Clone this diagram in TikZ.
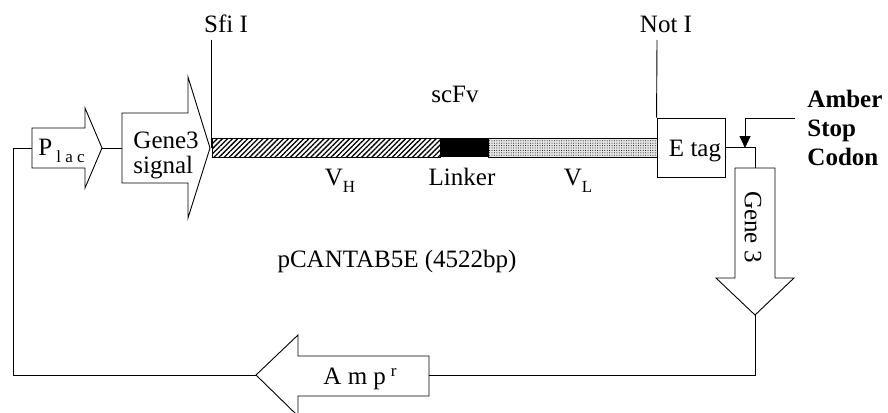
\documentclass[tikz,border=0pt]{standalone}
\usepackage{fontspec}
\setmainfont{Liberation Serif}
\usetikzlibrary{arrows.meta,patterns.meta}
\newcommand{\smalltxt}[1]{{\fontsize{17}{17}\selectfont #1}}
\begin{document}
\begin{tikzpicture}[x=1pt,y=-1pt,line width=0.9pt,
  lbl/.style={inner sep=0pt,anchor=base,font=\fontsize{25}{25}\selectfont},
  gene/.style={draw,fill=white,line join=miter},
  conn/.style={draw,line join=miter}]
\useasboundingbox (0,0) rectangle (888,412);

% --- named connection points of the gene arrows
\coordinate (placL) at (32,148);
\coordinate (placT) at (102,148);
\coordinate (sigL) at (122,148);
\coordinate (sigT) at (210,148);
\coordinate (g3top) at (755,168);
\coordinate (g3tip) at (755,315);
\coordinate (ampR) at (429,375);
\coordinate (ampT) at (256,375);
\coordinate (sfiTop) at (211,40);
\coordinate (sfiBot) at (211,148);
\coordinate (notTop) at (657,40);
\coordinate (amberS) at (795,118);
\coordinate (amberE) at (745,148);
\coordinate (loopC) at (13,375);

% --- gene arrows
\draw[gene] (32,128) -- (85,128) -- (85,108) -- (placT) -- (85,188) -- (85,168) -- (32,168) -- cycle;
\draw[gene] (122,113) -- (188,113) -- (188,77) -- (sigT) -- (188,218) -- (188,183) -- (122,183) -- cycle;
\draw[gene] (735,168) -- (775,168) -- (775,278) -- (794,278) -- (g3tip) -- (716,278) -- (735,278) -- cycle;
\draw[gene] (429,356) -- (429,396) -- (298,396) -- (298,416) -- (ampT) -- (298,335) -- (298,356) -- cycle;

% --- scFv bar
\draw[pattern={Lines[angle=45,distance=3.6pt,line width=1.3pt]}] (212,138) rectangle (440,157);
\fill (440,138) rectangle (488,157);
\fill[black!10] (488,138) rectangle (657,157);
\draw[pattern={Dots[distance=2.4pt,radius=0.5pt]}] (488,138) rectangle (657,157);

% --- E tag box
\node[draw,inner sep=0pt,minimum width=68pt,minimum height=59pt] (etag) at (691,147.5) {};
\node[lbl] (etagtxt) at (695,156) {E tag};

% --- connectors
\draw[conn] (placT) -- (sigL);
\draw[conn] (sfiTop) -- (sfiBot);
\draw[conn] (notTop) -- (etag.north west);
\draw[conn] (etag.east) -| (g3top);
\draw[conn] (g3tip) |- (ampR);
\draw[conn] (ampT) -- (loopC) |- (placL);
\draw[conn,-{Triangle[width=11pt,length=12pt]}] (amberS) -| (amberE);

% --- labels
\node[lbl] (sfi) at (226,33) {Sfi I};
\node[lbl] (noti) at (666,33) {Not I};
\node[lbl] (scfv) at (455,102) {scFv};
\node[lbl] (vh) at (340,185) {V\raisebox{-7pt}{\smalltxt{H}}};
\node[lbl] (linker) at (462,185) {Linker};
\node[lbl] (vl) at (578,185) {V\raisebox{-7pt}{\smalltxt{L}}};
\node[lbl] (pcan) at (397,267) {pCANTAB5E (4522bp)};
\node[lbl,anchor=base west] (plac) at (38,155) {P\hspace{4pt}\raisebox{-7pt}{\smalltxt{l a c}}};
\node[lbl,anchor=north west,align=left] (sig) at (133,131) {Gene3\\signal};
\node[lbl,anchor=center,rotate=-90] (g3txt) at (753,227) {Gene 3};
\node[lbl,anchor=base west] (amp) at (323,384) {A m p\hspace{5pt}\raisebox{8pt}{\smalltxt{r}}};
\node[lbl,anchor=north west,align=left,font=\bfseries\fontsize{25}{29}\selectfont] (amber) at (807,90) {Amber\\Stop\\Codon};
\end{tikzpicture}
\end{document}
